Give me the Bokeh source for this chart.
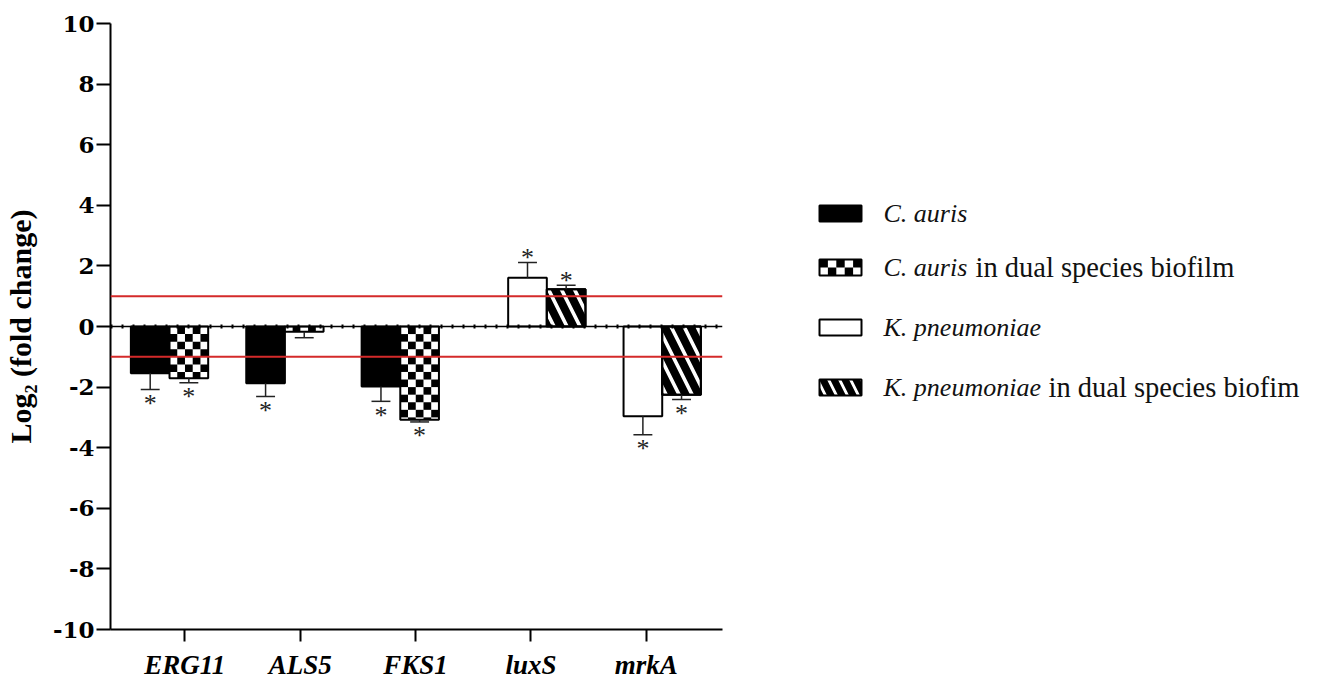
import math
from bokeh.plotting import figure
from bokeh.models import FixedTicker, Range1d, Span
from bokeh.layouts import row
from bokeh.core.properties import value
from bokeh.embed import file_html
from bokeh.resources import INLINE

# ---------------- data ----------------
genes = ["ERG11", "ALS5", "FKS1", "luxS", "mrkA"]
y_ticks = [-10, -8, -6, -4, -2, 0, 2, 4, 6, 8, 10]
y_tick_labels = ["-10", "-8", "-6", "-4", "-2", "0", "2", "4", "6", "8", "10"]
thresholds = [1.0, -1.0]

legend_italic = ["C. auris", "C. auris", "K. pneumoniae", "K. pneumoniae"]
legend_plain = ["", "in dual species biofilm", "", "in dual species biofim"]

# C. auris genes
ca_genes = ["ERG11", "ALS5", "FKS1"]
ca_mono = [-1.54, -1.87, -1.98]
ca_mono_sd = [0.54, 0.44, 0.49]
ca_mono_sig = [True, True, True]
ca_dual = [-1.71, -0.17, -3.08]
ca_dual_sd = [0.15, 0.20, 0.07]
ca_dual_sig = [True, False, True]

# K. pneumoniae genes
kp_genes = ["luxS", "mrkA"]
kp_mono = [1.61, -2.96]
kp_mono_sd = [0.50, 0.61]
kp_mono_sig = [True, True]
kp_dual = [1.23, -2.25]
kp_dual_sd = [0.13, 0.16]
kp_dual_sig = [True, True]

# ---------------- style ----------------
SERIF = "Liberation Serif"
BAR_W = 0.335
CAP = 0.082
RED = "#d42a2a"
H = 684
TOP_B, BOT_B = 23, 55

p = figure(width=748, height=H, x_range=Range1d(-0.644, 4.66), y_range=Range1d(-10, 10),
           output_backend="svg", toolbar_location=None,
           min_border_left=110, min_border_right=26, min_border_top=TOP_B, min_border_bottom=BOT_B)
p.xgrid.visible = False
p.ygrid.visible = False
p.outline_line_color = None

p.yaxis.ticker = FixedTicker(ticks=y_ticks)
p.yaxis.major_label_overrides = {t: s for t, s in zip(y_ticks, y_tick_labels)}
p.xaxis.ticker = FixedTicker(ticks=list(range(len(genes))))
p.xaxis.major_label_overrides = {i: g for i, g in enumerate(genes)}
for ax in (p.xaxis[0], p.yaxis[0]):
    ax.axis_line_width = 2
    ax.axis_line_color = "black"
    ax.major_tick_line_width = 2
    ax.major_tick_line_color = "black"
    ax.minor_tick_line_color = None
    ax.major_tick_in = 0
p.yaxis.major_tick_out = 14
p.xaxis.major_tick_out = 12
p.yaxis.major_label_text_font = "DejaVu Serif"
p.yaxis.major_label_text_font_style = "bold"
p.yaxis.major_label_text_font_size = "23px"
p.yaxis.major_label_text_color = "black"
p.yaxis.major_label_standoff = 2
p.xaxis.major_label_text_font = SERIF
p.xaxis.major_label_text_font_style = "bold italic"
p.xaxis.major_label_text_font_size = "27px"
p.xaxis.major_label_text_color = "black"
p.xaxis.major_label_standoff = 8
p.yaxis.axis_label = "Log\u2082 (fold change)"
p.yaxis.axis_label_text_font = SERIF
p.yaxis.axis_label_text_font_style = "bold"
p.yaxis.axis_label_text_font_size = "30px"
p.yaxis.axis_label_text_color = "black"
p.yaxis.axis_label_standoff = 13


def positions(gene_list, offset):
    return [genes.index(g) + offset for g in gene_list]


ca_x1 = positions(ca_genes, -0.30)
ca_x2 = positions(ca_genes, 0.035)
kp_x1 = positions(kp_genes, -0.03)
kp_x2 = positions(kp_genes, 0.305)

# C. auris (solid black)
p.vbar(x=ca_x1, top=ca_mono, bottom=0, width=BAR_W, fill_color="black", line_color="black", line_width=2)

# C. auris dual (checker)
p.vbar(x=ca_x2, top=ca_dual, bottom=0, width=BAR_W, fill_color="white", line_color=None)
cl, cr, ct, cb = [], [], [], []
ncol, ch = 5, 0.25
for xc, v in zip(ca_x2, ca_dual):
    cw = BAR_W / ncol
    left = xc - BAR_W / 2
    sgn = -1 if v < 0 else 1
    nrows = math.ceil(abs(v) / ch)
    for r in range(nrows):
        y0 = sgn * r * ch
        y1 = sgn * min((r + 1) * ch, abs(v))
        for c in range(ncol):
            if (r + c) % 2 == 1:
                cl.append(left + c * cw)
                cr.append(left + (c + 1) * cw)
                ct.append(y0)
                cb.append(y1)
p.quad(left=cl, right=cr, top=ct, bottom=cb, fill_color="black", line_color=None)
p.vbar(x=ca_x2, top=ca_dual, bottom=0, width=BAR_W, fill_color=None, line_color="black", line_width=2)

# K. pneumoniae (white)
p.vbar(x=kp_x1, top=kp_mono, bottom=0, width=BAR_W, fill_color="white", line_color="black", line_width=2)

# K. pneumoniae dual (diagonal stripes)
p.vbar(x=kp_x2, top=kp_dual, bottom=0, width=BAR_W, fill_color="white", line_color="black", line_width=2,
       hatch_pattern="left_diagonal_line", hatch_color="black", hatch_scale=26, hatch_weight=8)
p.vbar(x=kp_x2, top=kp_dual, bottom=0, width=BAR_W, fill_color=None, line_color="black", line_width=2)

# error bars + asterisks
ast_x, ast_y, ast_off = [], [], []
for xs, vals, sds, sigs in [(ca_x1, ca_mono, ca_mono_sd, ca_mono_sig),
                            (ca_x2, ca_dual, ca_dual_sd, ca_dual_sig),
                            (kp_x1, kp_mono, kp_mono_sd, kp_mono_sig),
                            (kp_x2, kp_dual, kp_dual_sd, kp_dual_sig)]:
    ends = [v + (sd if v > 0 else -sd) for v, sd in zip(vals, sds)]
    p.segment(x0=xs, y0=vals, x1=xs, y1=ends, line_color="#222222", line_width=1.5)
    p.segment(x0=[x - CAP for x in xs], y0=ends, x1=[x + CAP for x in xs], y1=ends,
              line_color="#222222", line_width=1.5)
    for x, e, s in zip(xs, ends, sigs):
        if s:
            ast_x.append(x)
            ast_y.append(e)
            ast_off.append(14 if e < 0 else -5)

for t in thresholds:
    p.add_layout(Span(location=t, dimension="width", line_color=RED, line_width=2))
p.add_layout(Span(location=0, dimension="width", line_color="black", line_width=1.5))
p.add_layout(Span(location=0, dimension="width", line_color="black", line_width=4, line_dash="2 9"))

p.text(x=ast_x, y=ast_y, text=["*"] * len(ast_x), y_offset=ast_off,
       text_align="center", text_baseline="middle", text_font=value(SERIF),
       text_font_size="26px", text_color="#222222")

# ---------------- legend panel (page-pixel coordinates) ----------------
X0, LW = 748, 576
lg = figure(width=LW, height=H, x_range=Range1d(X0, X0 + LW), y_range=Range1d(H - BOT_B, TOP_B),
            output_backend="svg", toolbar_location=None, x_axis_type=None, y_axis_type=None,
            min_border_left=0, min_border_right=0, min_border_top=TOP_B, min_border_bottom=BOT_B)
lg.xgrid.visible = False
lg.ygrid.visible = False
lg.outline_line_color = None

row_y = [213, 267, 327, 387]
sw_l, sw_r, sw_h = 819, 861, 16
# swatch 1: black
lg.quad(left=[sw_l], right=[sw_r], top=[row_y[0] - sw_h / 2], bottom=[row_y[0] + sw_h / 2],
        fill_color="black", line_color="black", line_width=2)
# swatch 2: checker
y2 = row_y[1]
ql, qr, qt, qb = [], [], [], []
cwp = (sw_r - sw_l) / 5
for r in range(2):
    for c in range(5):
        if (r + c) % 2 == 0:
            ql.append(sw_l + c * cwp)
            qr.append(sw_l + (c + 1) * cwp)
            qt.append(y2 - sw_h / 2 + r * sw_h / 2)
            qb.append(y2 - sw_h / 2 + (r + 1) * sw_h / 2)
lg.quad(left=ql, right=qr, top=qt, bottom=qb, fill_color="black", line_color=None)
lg.quad(left=[sw_l], right=[sw_r], top=[y2 - sw_h / 2], bottom=[y2 + sw_h / 2],
        fill_color=None, line_color="black", line_width=2)
# swatch 3: white
lg.quad(left=[sw_l], right=[sw_r], top=[row_y[2] - sw_h / 2], bottom=[row_y[2] + sw_h / 2],
        fill_color="white", line_color="black", line_width=2)
# swatch 4: diagonal
lg.quad(left=[sw_l], right=[sw_r], top=[row_y[3] - sw_h / 2], bottom=[row_y[3] + sw_h / 2],
        fill_color="white", line_color="black", line_width=2,
        hatch_pattern="left_diagonal_line", hatch_color="black", hatch_scale=22, hatch_weight=7)

text_x = 883
lg.text(x=[text_x] * 4, y=row_y, text=legend_italic, text_font=value(SERIF), text_font_style="italic",
        text_font_size="26px", text_baseline="middle", text_align="left", text_color="#111111")
plain_x = [0, 975, 0, 1048]
lg.text(x=[plain_x[i] for i in (1, 3)], y=[row_y[i] for i in (1, 3)],
        text=[legend_plain[i] for i in (1, 3)], text_font=value(SERIF),
        text_font_size="28.5px", text_baseline="middle", text_align="left", text_color="#111111")

layout = row(p, lg, spacing=0)
open("out.html", "w").write(file_html(layout, INLINE))
